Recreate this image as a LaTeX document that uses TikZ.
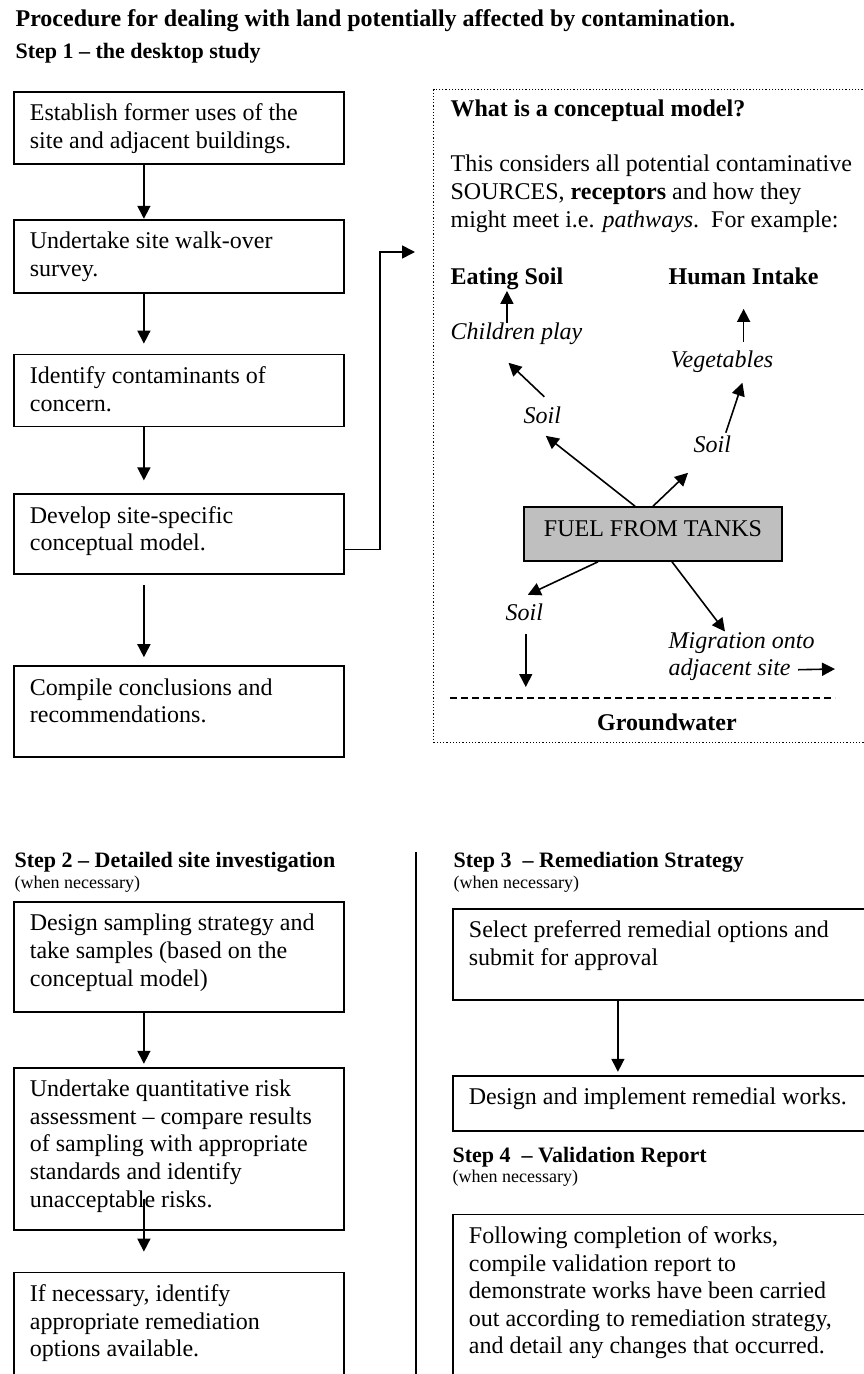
\documentclass[tikz,border=0pt]{standalone}
\usepackage{fontspec}
\setmainfont{Liberation Serif}
\usetikzlibrary{arrows.meta,positioning,calc}

\newcommand{\bodyfont}{\fontsize{12}{13.8}\selectfont}
\newcommand{\headfont}{\fontsize{11}{13}\selectfont\bfseries}
\newcommand{\notefont}{\fontsize{9}{10}\selectfont}
% text of a box: width, height, lines
\newcommand{\boxtext}[3]{\parbox[t][#2][t]{#1}{\leftskip=8pt\rightskip=0pt plus 1fil\parindent=0pt\vspace*{4.8pt}\strut#3\par}}

\begin{document}
\begin{tikzpicture}[x=0.5pt, y=-0.5pt, >={Triangle[length=6.5pt,width=6.5pt]}, semithick]
                \tikzstyle{stepbox}=[draw, line width=0.9pt, inner sep=0pt, font=\bodyfont]
                \tikzstyle{txt}=[anchor=base west, inner sep=0pt]
                \tikzstyle{head}=[txt, font=\headfont]
                \tikzstyle{note}=[txt, font=\notefont]
                \tikzstyle{arr}=[->, line width=0.8pt]
                \tikzstyle{fuel}=[draw, fill=black!25, line width=0.8pt, minimum width=129pt, minimum height=27pt, inner sep=0pt, text height=8pt, text depth=6pt, font=\bodyfont]
                \tikzstyle{frame}=[draw, densely dotted, line width=0.6pt, anchor=north west, minimum width=228pt, minimum height=326.5pt, inner sep=0pt]

                \useasboundingbox (0,0) rectangle (863,1374);

                % Define the headings
                \node[txt, font=\fontsize{12}{14}\selectfont\bfseries] (title) at (15,27) {Procedure for dealing with land potentially affected by contamination.};
                \node[head] (step1) at (15,59) {Step 1 -- the desktop study};

                % Step 1 boxes
                \node[stepbox, anchor=north west] (use) at (13,91) {\boxtext{165pt}{36pt}{Establish former uses of the\\site and adjacent buildings.}};
                \node[stepbox, below=27pt of use] (walk) {\boxtext{165pt}{36.5pt}{Undertake site walk-over\\survey.}};
                \node[stepbox, below=30pt of walk] (cont) {\boxtext{165pt}{36pt}{Identify contaminants of\\concern.}};
                \node[stepbox, below=33pt of cont] (devel) {\boxtext{165pt}{40pt}{Develop site-specific\\conceptual model.}};
                \node[stepbox, below=45pt of devel] (concl) {\boxtext{165pt}{45.5pt}{Compile conclusions and\\recommendations.}};

                \draw[arr] ([xshift=-17.5pt]use.south) -- ([xshift=-17.5pt]walk.north);
                \draw[arr, shorten >=5pt] ([xshift=-17.5pt]walk.south) -- ([xshift=-17.5pt]cont.north);
                \draw[arr, shorten >=6.5pt] ([xshift=-17.5pt]cont.south) -- ([xshift=-17.5pt]devel.north);
                \draw[arr, shorten <=5pt, shorten >=4pt] ([xshift=-17.5pt]devel.south) -- ([xshift=-17.5pt]concl.north);

                % The conceptual model
                \node[frame] (model) at (433,89) {};
                \draw[arr] ([shift={(0,15)}]devel.east) -- ++(35,0) |- ([shift={(-18,163)}]model.north west);

                \node[txt, font=\bodyfont\bfseries] (what) at (450,117) {What is a conceptual model?};
                \node[txt, font=\bodyfont] (intro) at (450,172) {\parbox[t]{230pt}{\fontsize{12}{14}\selectfont This considers all potential contaminative\\SOURCES, \textbf{receptors} and how they\\might meet i.e. \textit{pathways}.\ \ For example:}};

                \node[txt, font=\bodyfont\bfseries] (eat) at (450,285) {Eating Soil};
                \node[txt, font=\bodyfont\bfseries] (human) at (668,285) {Human Intake};
                \node[txt, font=\bodyfont\itshape] (play) at (450,340) {Children play};
                \node[txt, font=\bodyfont\itshape] (veg) at (670,367) {Vegetables};
                \node[txt, font=\bodyfont\itshape] (soilA) at (523,423) {Soil};
                \node[txt, font=\bodyfont\itshape] (soilB) at (693,452) {Soil};
                \node[fuel] (tanks) at (653,534) {FUEL FROM TANKS};
                \node[txt, font=\bodyfont\itshape] (soilC) at (505,620) {Soil};
                \node[txt, font=\bodyfont\itshape] (migr) at (668,648) {\parbox[t]{90pt}{\fontsize{12}{13.5}\selectfont Migration onto\\adjacent site}};
                \coordinate (offsite) at (835,669);
                \coordinate (gwl) at (450,698);
                \coordinate (gwr) at (835,698);
                \node[anchor=base, inner sep=0pt, font=\bodyfont\bfseries] (ground) at (667,730) {Groundwater};

                % Connect the pathways
                \draw[arr] (eat.south |- play.north) -- (eat.south);
                \draw[arr] ([shift={(2,-9)}]soilA.north) -- ([shift={(-8,17)}]play.south);
                \draw[arr] ([xshift=-9pt]tanks.north) -- ([shift={(3.5,12)}]soilA.south);
                \draw[arr] (tanks.north) -- ([shift={(-5,20)}]soilB.south west);
                \draw[arr] ([shift={(13.5,-2)}]soilB.north) -- ([shift={(20.5,10)}]veg.south);
                \draw[arr] ($(human.south |- veg.north)+(0,-8)$) -- ([shift={(0,23)}]human.south);
                \draw[arr] ([xshift=-27.5pt]tanks.south) -- ([shift={(3.5,-8)}]soilC.north);
                \draw[arr] ([shift={(1.5,13)}]soilC.south) -- ($(soilC.south |- gwl)+(1.5,-11)$);
                \draw[arr] ([xshift=9.5pt]tanks.south) -- ([shift={(57,0)}]migr.north west);
                \draw[arr] ([shift={(130,-11)}]migr.south west) -- (offsite);
                \draw[dash pattern=on 3.5pt off 2pt, line width=0.6pt] (gwl) -- (gwr);

                % Step 2
                \node[head] (step2) at (14,867) {Step 2 -- Detailed site investigation};
                \node[note] (when2) at (14,888) {(when necessary)};
                \node[stepbox, anchor=north west] (sample) at (13,901) {\boxtext{165pt}{55pt}{Design sampling strategy and\\take samples (based on the\\conceptual model)}};
                \node[stepbox, below=27pt of sample] (risk) {\boxtext{165pt}{81pt}{Undertake quantitative risk\\assessment -- compare results\\of sampling with appropriate\\standards and identify\\unacceptable risks.}};
                \node[stepbox, below=20.5pt of risk] (option) {\boxtext{165pt}{65pt}{If necessary, identify\\appropriate remediation\\options available.}};

                \draw[arr, shorten >=1.5pt] ([xshift=-17.5pt]sample.south) -- ([xshift=-17.5pt]risk.north);
                \draw[arr, shorten <=-16pt, shorten >=10pt] ([xshift=-17.5pt]risk.south) -- ([xshift=-17.5pt]option.north);

                % divider
                \draw[line width=0.8pt] (416,852) -- (416,1380);

                % Steps 3 and 4
                \node[head] (step3) at (453,867) {Step 3~ -- Remediation Strategy};
                \node[note] (when3) at (453,888) {(when necessary)};
                \node[stepbox, anchor=north west] (select) at (452,908) {\boxtext{217pt}{45.5pt}{Select preferred remedial options and\\submit for approval}};
                \node[stepbox, below=37pt of select] (works) {\boxtext{217pt}{27.5pt}{Design and implement remedial works.}};
                \draw[arr, shorten >=1.5pt] ([xshift=-26pt]select.south) -- ([xshift=-26pt]works.north);

                \node[head] (step4) at (452,1162) {Step 4~ -- Validation Report};
                \node[note] (when4) at (452,1182) {(when necessary)};
                \node[stepbox, below=41pt of works] (valid) {\boxtext{217pt}{81pt}{Following completion of works,\\compile validation report to\\demonstrate works have been carried\\out according to remediation strategy,\\and detail any changes that occurred.}};

            \end{tikzpicture}
\end{document}
